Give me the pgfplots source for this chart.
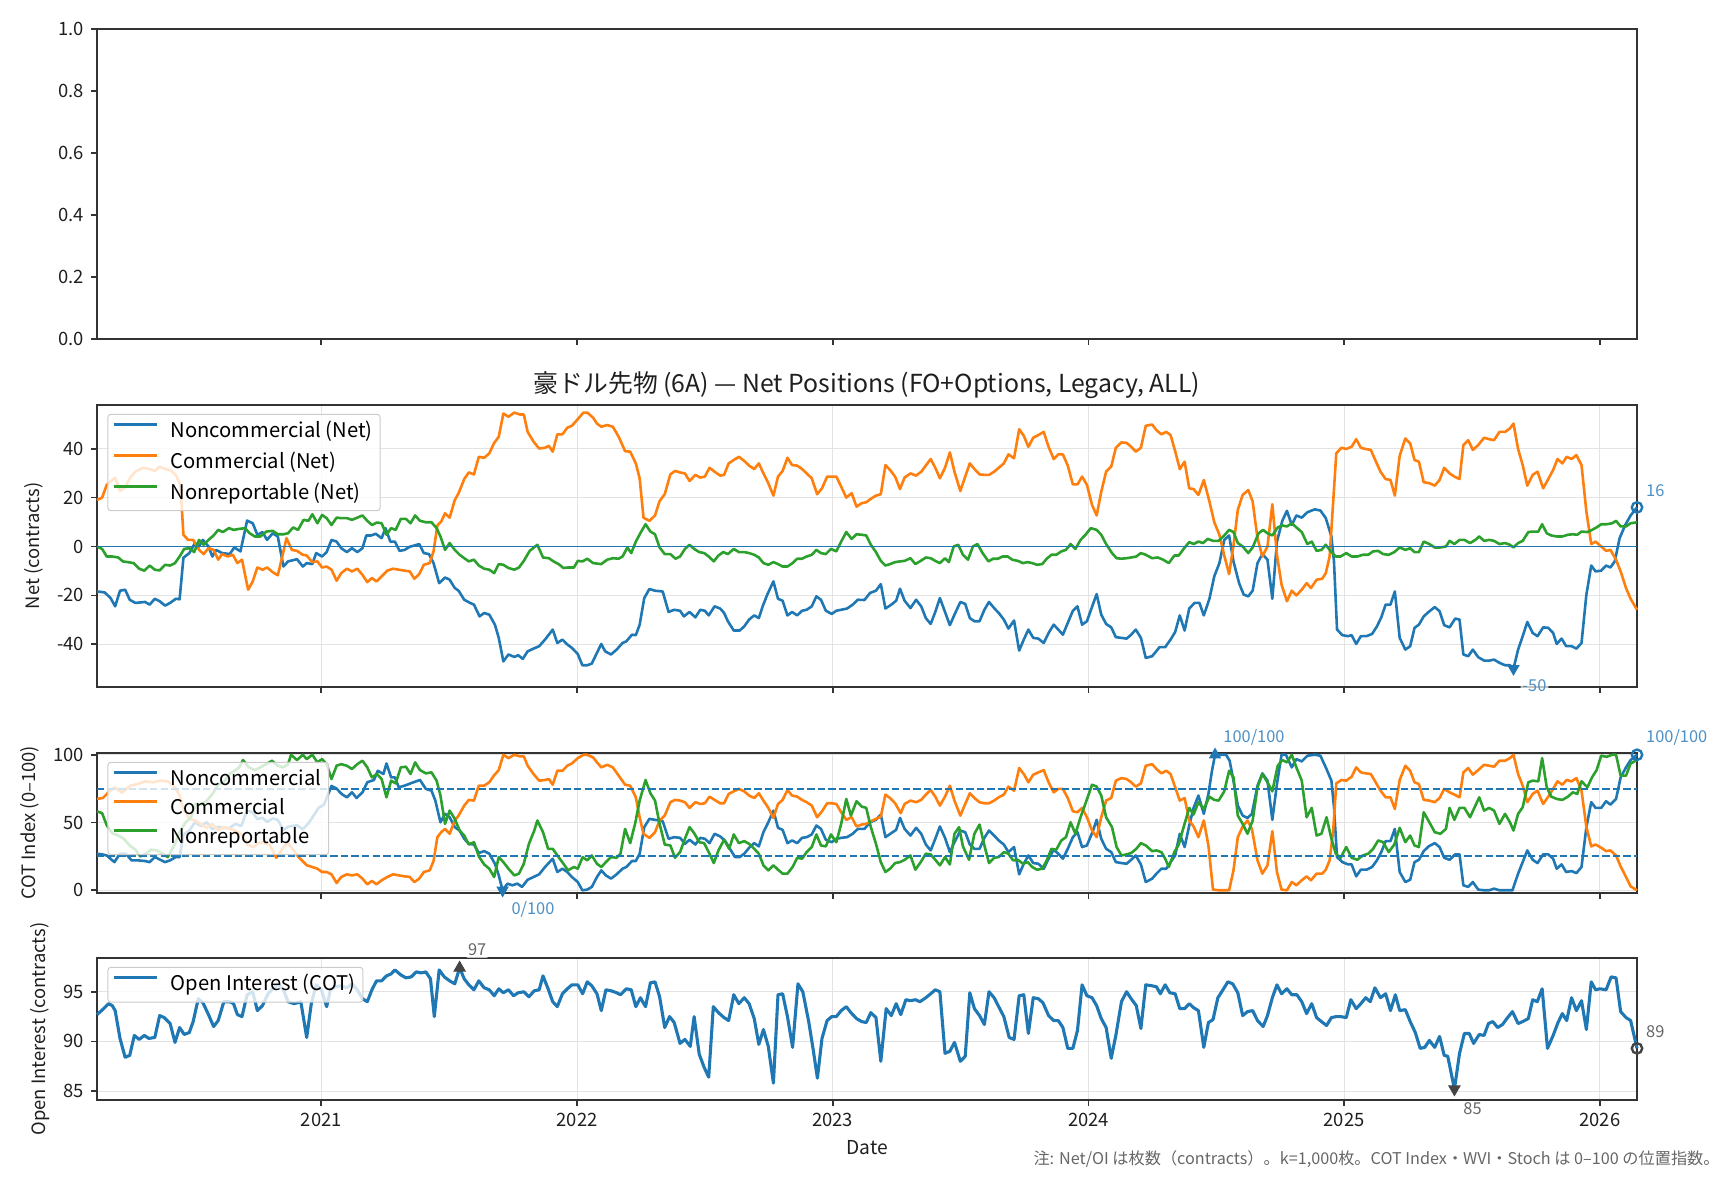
\documentclass[border=0pt]{standalone}
\usepackage{fontspec}
\setmainfont{Noto Sans CJK JP}
\usepackage{pgfplots}
\usepackage{pgfplotstable}
\pgfplotsset{compat=1.18}

\definecolor{C0}{HTML}{1F77B4}
\definecolor{C1}{HTML}{FF7F0E}
\definecolor{C2}{HTML}{2CA02C}
\definecolor{spine}{HTML}{333333}
\definecolor{gridc}{HTML}{E3E3E3}
\definecolor{annblue}{HTML}{4D90C6}
\definecolor{anngray}{HTML}{666666}
\definecolor{markgray}{HTML}{444444}

\newcommand\ticksz{\fontsize{9.2pt}{11pt}\selectfont}
\newcommand\legsz{\fontsize{10.1pt}{12pt}\selectfont}
\newcommand\titsz{\fontsize{12.4pt}{15pt}\selectfont}
\newcommand\annsz{\fontsize{8.2pt}{10pt}\selectfont}
\newcommand\notesz{\fontsize{8.1pt}{10pt}\selectfont}

% ---------- net positions (k contracts) ----------
\pgfplotstableread{
t v
2020.123 -18.4
2020.153 -18.8
2020.176 -21.1
2020.194 -24.5
2020.213 -18.1
2020.233 -17.7
2020.251 -21.8
2020.273 -23.1
2020.311 -22.7
2020.329 -23.8
2020.349 -21.4
2020.368 -22.4
2020.389 -24.2
2020.409 -23.1
2020.431 -21.4
2020.446 -21.6
2020.461 -4.6
2020.484 -2.7
2020.506 1.4
2020.522 0.0
2020.537 2.7
2020.559 0.0
2020.574 -4.1
2020.589 -1.4
2020.612 -2.7
2020.642 -3.1
2020.660 -0.4
2020.684 -2.0
2020.710 10.6
2020.732 9.5
2020.750 4.8
2020.770 5.9
2020.788 2.7
2020.810 5.4
2020.830 4.1
2020.852 -8.2
2020.870 -6.1
2020.905 -5.2
2020.928 -8.2
2020.943 -6.8
2020.965 -7.2
2020.980 -2.7
2021.003 -4.1
2021.021 -2.3
2021.040 2.7
2021.060 2.0
2021.078 -0.7
2021.100 -2.3
2021.120 -0.7
2021.141 -2.3
2021.161 -0.7
2021.176 4.5
2021.195 4.5
2021.213 5.2
2021.236 3.4
2021.251 7.5
2021.270 2.0
2021.288 2.0
2021.306 -1.8
2021.326 -1.4
2021.346 -0.1
2021.364 0.4
2021.383 1.0
2021.401 -2.7
2021.421 -3.1
2021.439 -6.8
2021.461 -15.0
2021.484 -12.7
2021.502 -13.6
2021.522 -17.0
2021.537 -18.1
2021.559 -21.8
2021.582 -23.1
2021.597 -23.8
2021.619 -28.6
2021.637 -27.2
2021.657 -27.9
2021.679 -32.0
2021.694 -37.4
2021.712 -47.0
2021.732 -44.2
2021.755 -45.2
2021.770 -44.5
2021.788 -46.0
2021.807 -42.9
2021.830 -41.8
2021.852 -40.8
2021.875 -38.1
2021.905 -34.0
2021.923 -39.5
2021.943 -38.1
2021.962 -40.1
2021.980 -41.5
2022.003 -44.0
2022.021 -48.6
2022.040 -48.6
2022.058 -47.9
2022.078 -43.5
2022.095 -39.9
2022.110 -42.9
2022.133 -44.2
2022.155 -42.2
2022.178 -39.5
2022.193 -38.8
2022.215 -36.1
2022.230 -36.3
2022.245 -32.0
2022.263 -21.1
2022.283 -17.4
2022.305 -18.1
2022.335 -18.4
2022.358 -26.8
2022.380 -25.9
2022.403 -26.3
2022.418 -28.6
2022.440 -26.8
2022.463 -29.0
2022.482 -25.9
2022.500 -26.3
2022.515 -28.2
2022.538 -24.5
2022.560 -25.4
2022.575 -27.2
2022.590 -30.6
2022.613 -34.4
2022.636 -34.4
2022.654 -32.7
2022.673 -29.9
2022.693 -28.2
2022.711 -29.3
2022.726 -24.5
2022.744 -19.7
2022.768 -14.3
2022.786 -21.4
2022.804 -22.2
2022.823 -28.2
2022.841 -26.8
2022.861 -28.2
2022.880 -26.3
2022.898 -25.9
2022.918 -24.5
2022.936 -20.4
2022.954 -21.8
2022.973 -26.3
2022.996 -27.6
2023.014 -26.3
2023.033 -25.9
2023.056 -25.4
2023.078 -23.8
2023.098 -21.8
2023.124 -21.9
2023.146 -19.0
2023.169 -18.1
2023.188 -15.4
2023.206 -25.4
2023.229 -23.8
2023.248 -22.2
2023.263 -17.3
2023.281 -22.2
2023.304 -25.2
2023.326 -21.8
2023.346 -24.5
2023.364 -29.3
2023.383 -31.7
2023.401 -26.8
2023.419 -21.1
2023.439 -26.8
2023.458 -32.2
2023.476 -27.9
2023.499 -22.7
2023.518 -23.5
2023.536 -29.3
2023.554 -30.6
2023.574 -30.6
2023.593 -25.9
2023.611 -22.7
2023.631 -25.2
2023.649 -27.2
2023.669 -29.9
2023.687 -33.6
2023.709 -30.3
2023.729 -42.6
2023.747 -38.1
2023.765 -34.0
2023.784 -37.4
2023.804 -37.7
2023.825 -39.5
2023.844 -35.4
2023.864 -32.0
2023.882 -34.0
2023.900 -36.1
2023.919 -31.3
2023.939 -26.3
2023.957 -24.5
2023.975 -32.0
2023.994 -30.6
2024.017 -23.8
2024.032 -19.5
2024.050 -27.9
2024.069 -31.7
2024.089 -33.1
2024.107 -37.1
2024.129 -37.4
2024.149 -37.7
2024.167 -36.1
2024.185 -34.0
2024.205 -37.4
2024.224 -45.6
2024.249 -44.9
2024.278 -41.2
2024.300 -41.2
2024.321 -38.1
2024.339 -35.0
2024.357 -28.2
2024.376 -34.4
2024.394 -25.4
2024.415 -23.1
2024.434 -23.1
2024.451 -28.2
2024.473 -21.4
2024.492 -12.2
2024.512 -6.8
2024.531 2.7
2024.550 4.5
2024.567 -6.1
2024.589 -15.0
2024.607 -19.7
2024.625 -20.4
2024.642 -18.1
2024.661 -6.8
2024.680 -3.1
2024.700 -5.4
2024.719 -21.4
2024.737 2.0
2024.758 10.5
2024.776 14.6
2024.795 8.8
2024.813 12.7
2024.834 11.8
2024.856 14.0
2024.885 15.2
2024.907 14.7
2024.928 11.6
2024.950 4.1
2024.960 -6.1
2024.972 -34.0
2024.993 -36.3
2025.015 -36.7
2025.029 -36.3
2025.047 -39.9
2025.065 -36.7
2025.087 -36.7
2025.109 -35.8
2025.128 -32.7
2025.145 -29.0
2025.162 -23.8
2025.181 -23.8
2025.198 -18.4
2025.217 -37.4
2025.239 -42.2
2025.258 -40.8
2025.275 -33.3
2025.292 -32.0
2025.311 -28.6
2025.330 -26.8
2025.354 -24.8
2025.373 -26.5
2025.391 -32.2
2025.412 -33.1
2025.434 -29.5
2025.451 -29.9
2025.466 -44.2
2025.485 -44.9
2025.503 -42.2
2025.524 -45.3
2025.547 -46.7
2025.567 -46.7
2025.586 -46.3
2025.607 -47.6
2025.629 -48.6
2025.648 -48.6
2025.662 -50.0
2025.680 -42.2
2025.698 -36.7
2025.716 -30.9
2025.737 -35.4
2025.756 -36.7
2025.778 -33.1
2025.798 -33.3
2025.817 -35.4
2025.831 -39.9
2025.850 -37.7
2025.868 -40.8
2025.889 -40.8
2025.908 -41.8
2025.928 -39.5
2025.947 -19.7
2025.966 -7.8
2025.983 -10.2
2026.005 -9.9
2026.024 -7.8
2026.041 -8.6
2026.058 -6.1
2026.077 3.4
2026.099 8.8
2026.120 12.7
2026.145 16.0
}\netNC

\pgfplotstableread{
t v
2020.123 19.0
2020.143 20.0
2020.161 25.2
2020.194 28.2
2020.213 22.7
2020.233 24.1
2020.251 27.9
2020.273 30.6
2020.303 32.2
2020.329 31.7
2020.349 30.9
2020.368 32.7
2020.389 31.7
2020.409 31.3
2020.431 29.3
2020.449 25.4
2020.461 4.8
2020.479 2.7
2020.499 2.7
2020.522 -1.4
2020.540 -3.1
2020.559 -0.7
2020.579 -1.4
2020.597 -5.4
2020.612 -3.1
2020.634 -4.1
2020.654 -3.4
2020.672 -6.8
2020.690 -5.4
2020.714 -17.7
2020.732 -14.3
2020.750 -8.6
2020.770 -9.5
2020.788 -8.6
2020.810 -10.5
2020.830 -11.8
2020.849 -3.4
2020.864 3.4
2020.885 -1.4
2020.905 -1.8
2020.928 -3.4
2020.943 -3.7
2020.965 -6.4
2020.985 -6.1
2021.003 -8.6
2021.021 -8.2
2021.040 -9.5
2021.060 -14.0
2021.078 -10.9
2021.100 -9.1
2021.120 -10.2
2021.141 -9.1
2021.161 -11.6
2021.180 -14.6
2021.198 -12.9
2021.216 -14.3
2021.236 -12.2
2021.258 -9.9
2021.281 -9.1
2021.303 -9.5
2021.326 -9.9
2021.346 -10.2
2021.364 -13.2
2021.383 -11.3
2021.401 -7.5
2021.424 -6.8
2021.439 -2.0
2021.454 8.6
2021.469 10.2
2021.484 13.6
2021.502 11.8
2021.522 19.0
2021.537 21.8
2021.559 27.6
2021.577 30.3
2021.597 29.5
2021.616 36.7
2021.637 36.3
2021.657 38.1
2021.675 42.2
2021.694 44.9
2021.712 54.4
2021.732 53.1
2021.755 54.8
2021.777 54.0
2021.792 54.0
2021.807 46.9
2021.830 42.9
2021.852 40.1
2021.875 40.4
2021.890 41.2
2021.905 38.8
2021.923 45.9
2021.943 45.9
2021.962 48.6
2021.980 49.4
2022.003 52.1
2022.025 54.8
2022.040 54.8
2022.063 52.7
2022.078 50.3
2022.095 49.0
2022.118 49.7
2022.140 49.0
2022.163 44.9
2022.188 39.0
2022.208 38.8
2022.230 34.0
2022.245 27.9
2022.260 11.8
2022.283 10.5
2022.305 12.7
2022.323 18.6
2022.343 21.4
2022.365 29.5
2022.383 30.9
2022.403 30.3
2022.422 29.9
2022.440 26.8
2022.463 29.3
2022.482 28.2
2022.500 28.6
2022.518 32.2
2022.538 30.6
2022.560 29.0
2022.575 29.3
2022.593 34.0
2022.613 35.4
2022.633 36.7
2022.654 35.0
2022.673 33.1
2022.693 31.7
2022.711 34.0
2022.729 29.9
2022.748 25.9
2022.768 20.8
2022.786 28.6
2022.804 30.9
2022.823 36.3
2022.841 33.3
2022.861 33.1
2022.880 31.7
2022.898 29.9
2022.918 27.9
2022.939 21.4
2022.958 23.8
2022.978 28.6
2022.996 28.6
2023.014 28.6
2023.033 24.5
2023.053 20.0
2023.074 21.8
2023.093 16.3
2023.113 17.7
2023.131 18.1
2023.149 19.5
2023.169 20.8
2023.188 21.4
2023.206 33.3
2023.224 31.3
2023.244 28.6
2023.263 23.5
2023.281 28.2
2023.304 29.9
2023.326 29.0
2023.346 30.6
2023.364 33.1
2023.383 35.8
2023.401 32.2
2023.419 27.9
2023.439 32.2
2023.458 38.5
2023.476 30.6
2023.499 22.7
2023.518 28.6
2023.536 34.0
2023.554 31.7
2023.574 29.5
2023.593 29.3
2023.611 29.3
2023.631 30.6
2023.649 32.2
2023.669 34.0
2023.687 37.7
2023.709 36.1
2023.729 48.0
2023.747 45.3
2023.765 40.8
2023.784 44.5
2023.804 45.6
2023.825 46.9
2023.844 40.8
2023.864 35.8
2023.882 37.7
2023.900 37.7
2023.919 33.1
2023.939 25.4
2023.957 25.4
2023.975 28.6
2023.994 25.2
2024.014 17.0
2024.032 12.7
2024.050 22.4
2024.069 30.6
2024.089 32.7
2024.107 40.4
2024.129 42.6
2024.149 42.4
2024.167 40.8
2024.185 38.8
2024.205 40.4
2024.224 49.4
2024.249 49.9
2024.266 47.6
2024.285 45.9
2024.304 46.9
2024.321 45.6
2024.339 39.0
2024.357 31.7
2024.376 34.7
2024.394 23.8
2024.411 23.5
2024.430 21.1
2024.451 27.2
2024.473 18.4
2024.492 9.9
2024.512 4.8
2024.531 -3.7
2024.550 -11.3
2024.567 0.4
2024.584 15.0
2024.603 21.1
2024.625 23.1
2024.642 18.4
2024.661 3.4
2024.680 -4.1
2024.700 0.0
2024.719 17.3
2024.737 -3.4
2024.755 -15.6
2024.776 -22.4
2024.795 -18.1
2024.813 -20.0
2024.834 -17.7
2024.853 -15.0
2024.870 -17.0
2024.892 -13.6
2024.914 -13.2
2024.928 -10.9
2024.943 -4.1
2024.957 18.4
2024.969 38.1
2024.989 40.4
2025.008 39.9
2025.029 40.8
2025.047 43.9
2025.065 40.4
2025.084 39.9
2025.104 39.5
2025.123 35.0
2025.142 30.6
2025.162 27.6
2025.181 27.2
2025.198 20.8
2025.217 37.1
2025.239 44.2
2025.258 42.2
2025.275 35.4
2025.292 34.7
2025.311 26.3
2025.333 25.9
2025.354 24.9
2025.373 27.2
2025.391 32.2
2025.412 29.9
2025.431 28.6
2025.451 27.6
2025.466 41.5
2025.485 43.5
2025.503 39.5
2025.524 41.5
2025.547 44.5
2025.567 43.9
2025.586 43.5
2025.607 46.9
2025.629 46.9
2025.648 48.3
2025.662 50.3
2025.680 39.9
2025.698 33.3
2025.716 24.9
2025.737 29.3
2025.756 30.6
2025.778 23.8
2025.798 27.6
2025.817 31.3
2025.834 35.8
2025.853 34.0
2025.870 36.7
2025.889 35.8
2025.908 37.4
2025.928 33.3
2025.947 14.3
2025.966 1.0
2025.983 2.0
2026.005 0.0
2026.024 -1.8
2026.041 -1.4
2026.063 -5.4
2026.081 -10.2
2026.102 -17.0
2026.120 -21.4
2026.145 -25.9
}\netC

\pgfplotstableread{
t v
2020.123 0.0
2020.143 -1.0
2020.161 -4.1
2020.183 -4.1
2020.206 -4.5
2020.224 -6.1
2020.243 -6.4
2020.266 -6.8
2020.288 -9.1
2020.308 -9.9
2020.329 -7.8
2020.349 -9.5
2020.368 -9.8
2020.389 -7.5
2020.409 -7.8
2020.428 -6.8
2020.446 -4.1
2020.464 -1.0
2020.484 -0.7
2020.503 -2.3
2020.522 2.7
2020.540 0.7
2020.559 2.7
2020.579 4.5
2020.597 6.8
2020.615 5.9
2020.639 7.5
2020.657 6.8
2020.679 7.2
2020.702 7.5
2020.720 5.4
2020.740 4.1
2020.762 4.1
2020.785 6.1
2020.810 6.4
2020.830 5.0
2020.852 5.0
2020.870 5.4
2020.890 7.8
2020.909 6.8
2020.931 10.9
2020.950 10.5
2020.965 13.2
2020.985 9.5
2021.003 12.9
2021.021 11.6
2021.040 8.8
2021.060 11.8
2021.078 11.6
2021.100 11.6
2021.120 10.9
2021.141 11.8
2021.161 12.7
2021.180 10.5
2021.198 8.8
2021.218 9.8
2021.236 9.5
2021.255 4.8
2021.273 7.5
2021.291 6.8
2021.311 11.3
2021.331 11.3
2021.349 9.5
2021.367 12.7
2021.386 10.5
2021.409 9.9
2021.431 9.9
2021.451 7.5
2021.466 4.1
2021.484 -1.4
2021.502 1.4
2021.522 -1.4
2021.541 -3.4
2021.559 -4.8
2021.577 -6.1
2021.597 -5.4
2021.616 -7.8
2021.637 -9.1
2021.657 -9.5
2021.676 -10.9
2021.694 -7.2
2021.712 -7.5
2021.732 -8.8
2021.755 -9.5
2021.773 -8.6
2021.792 -5.9
2021.815 -1.8
2021.845 0.7
2021.867 -4.5
2021.890 -4.8
2021.908 -6.1
2021.928 -7.2
2021.947 -8.8
2021.965 -8.6
2021.988 -8.6
2022.003 -5.9
2022.022 -6.1
2022.040 -5.0
2022.063 -6.8
2022.095 -7.2
2022.118 -5.4
2022.140 -4.8
2022.163 -5.0
2022.178 -4.1
2022.197 -0.4
2022.212 -2.7
2022.230 2.0
2022.250 5.9
2022.268 9.1
2022.287 6.1
2022.305 5.0
2022.323 -0.4
2022.343 -3.1
2022.365 -3.1
2022.385 -5.0
2022.403 -4.1
2022.422 -1.0
2022.440 0.7
2022.458 -1.0
2022.478 -2.3
2022.497 -2.7
2022.515 -4.1
2022.535 -6.1
2022.553 -3.7
2022.572 -2.3
2022.590 -3.1
2022.613 -1.0
2022.633 -2.3
2022.654 -2.3
2022.673 -2.7
2022.693 -3.4
2022.711 -4.5
2022.729 -6.8
2022.748 -7.5
2022.768 -6.4
2022.786 -7.2
2022.804 -8.2
2022.823 -8.2
2022.843 -6.8
2022.861 -5.0
2022.880 -5.0
2022.898 -4.1
2022.918 -3.4
2022.936 -1.4
2022.954 -2.7
2022.973 -3.1
2022.993 -1.0
2023.014 -2.0
2023.033 2.0
2023.053 5.9
2023.074 3.1
2023.093 5.0
2023.113 4.8
2023.131 4.5
2023.149 0.7
2023.169 -2.3
2023.188 -5.9
2023.206 -7.8
2023.224 -7.2
2023.244 -6.4
2023.263 -6.1
2023.281 -5.9
2023.304 -4.8
2023.323 -7.2
2023.344 -5.9
2023.364 -4.5
2023.383 -4.8
2023.401 -5.9
2023.419 -6.8
2023.439 -4.8
2023.454 -6.4
2023.473 0.0
2023.491 0.7
2023.509 -3.4
2023.529 -5.4
2023.548 0.0
2023.566 1.0
2023.586 -2.7
2023.609 -6.1
2023.627 -5.0
2023.646 -5.0
2023.664 -4.1
2023.684 -4.1
2023.702 -5.4
2023.724 -5.9
2023.744 -6.8
2023.762 -6.4
2023.780 -6.8
2023.799 -7.5
2023.819 -7.2
2023.837 -5.0
2023.855 -3.4
2023.874 -3.4
2023.894 -2.0
2023.912 -1.4
2023.930 1.0
2023.949 -1.0
2023.969 2.7
2023.990 5.0
2024.009 7.5
2024.032 6.8
2024.050 4.8
2024.069 1.0
2024.092 -2.7
2024.110 -4.8
2024.129 -5.0
2024.149 -4.8
2024.167 -4.5
2024.187 -4.1
2024.205 -2.7
2024.224 -3.4
2024.249 -4.8
2024.271 -4.5
2024.292 -5.4
2024.314 -6.8
2024.336 -3.7
2024.353 -3.7
2024.372 -1.0
2024.394 1.8
2024.411 1.0
2024.430 2.0
2024.448 1.4
2024.466 3.1
2024.487 2.3
2024.509 2.3
2024.531 4.5
2024.550 6.8
2024.567 5.9
2024.584 1.4
2024.603 0.0
2024.625 -2.7
2024.642 -0.4
2024.665 5.4
2024.683 6.8
2024.700 5.4
2024.719 4.5
2024.740 7.8
2024.758 8.6
2024.776 8.2
2024.795 9.5
2024.813 7.8
2024.834 5.9
2024.856 1.0
2024.873 2.0
2024.892 -1.8
2024.911 -1.4
2024.928 0.7
2024.946 -1.8
2024.967 -4.1
2024.986 -4.1
2025.008 -2.7
2025.029 -4.1
2025.051 -4.1
2025.073 -3.4
2025.094 -3.4
2025.113 -2.0
2025.133 -1.8
2025.152 -3.1
2025.174 -3.4
2025.196 -2.3
2025.217 -0.4
2025.239 -1.4
2025.258 -0.7
2025.275 -2.3
2025.292 -2.3
2025.311 2.0
2025.333 1.0
2025.354 -0.4
2025.376 -0.4
2025.398 0.0
2025.412 2.3
2025.431 1.0
2025.451 2.7
2025.470 2.7
2025.492 1.4
2025.513 2.7
2025.528 4.1
2025.547 2.3
2025.567 2.7
2025.586 2.3
2025.607 1.0
2025.629 1.4
2025.648 0.7
2025.662 -0.4
2025.680 1.4
2025.698 2.3
2025.720 5.9
2025.737 6.1
2025.759 6.1
2025.774 9.1
2025.792 5.4
2025.810 4.5
2025.831 4.1
2025.853 4.1
2025.875 4.8
2025.894 5.0
2025.911 4.8
2025.928 6.1
2025.951 5.9
2025.969 6.8
2025.987 7.8
2026.005 9.1
2026.026 9.1
2026.048 9.5
2026.063 10.5
2026.081 8.2
2026.102 8.2
2026.120 9.5
2026.145 9.9
}\netNR

% ---------- COT index (0-100) ----------
\pgfplotstableread{
t v
2020.123 27.0
2020.143 26.5
2020.161 25.7
2020.191 20.8
2020.213 27.0
2020.236 27.0
2020.258 22.1
2020.281 22.1
2020.311 21.6
2020.329 20.8
2020.349 24.5
2020.371 22.5
2020.389 20.8
2020.409 22.1
2020.431 24.5
2020.446 24.5
2020.461 41.0
2020.484 44.1
2020.506 50.2
2020.529 47.5
2020.552 50.2
2020.574 45.0
2020.597 47.0
2020.619 46.0
2020.642 46.0
2020.664 49.0
2020.687 47.5
2020.710 59.0
2020.732 57.5
2020.750 52.5
2020.770 53.5
2020.788 50.5
2020.810 53.0
2020.830 52.0
2020.852 44.5
2020.870 47.0
2020.905 48.0
2020.928 45.0
2020.950 49.5
2020.973 56.0
2020.990 61.0
2021.010 63.0
2021.040 77.0
2021.060 75.0
2021.080 71.0
2021.100 68.6
2021.120 72.3
2021.138 68.1
2021.161 72.3
2021.180 79.7
2021.206 81.4
2021.221 88.2
2021.243 85.8
2021.255 93.6
2021.273 83.3
2021.288 83.3
2021.303 76.0
2021.326 77.2
2021.349 78.9
2021.371 80.4
2021.386 81.4
2021.409 74.8
2021.431 73.5
2021.446 66.2
2021.466 50.2
2021.484 56.4
2021.502 53.9
2021.522 46.6
2021.541 44.1
2021.559 38.0
2021.577 34.3
2021.597 33.8
2021.616 27.5
2021.637 28.9
2021.657 27.0
2021.679 19.6
2021.694 11.0
2021.709 0.0
2021.728 4.9
2021.747 3.7
2021.767 4.9
2021.785 2.5
2021.807 7.8
2021.830 9.8
2021.852 11.8
2021.875 17.2
2021.905 23.3
2021.923 13.5
2021.943 15.9
2021.962 13.5
2021.980 9.8
2022.003 6.1
2022.021 0.0
2022.040 0.5
2022.058 2.5
2022.078 9.8
2022.095 14.7
2022.113 11.0
2022.133 8.6
2022.155 11.8
2022.178 15.9
2022.193 17.2
2022.215 21.6
2022.230 21.6
2022.245 27.0
2022.263 46.6
2022.283 52.7
2022.305 52.0
2022.335 51.0
2022.358 38.0
2022.380 39.2
2022.403 38.7
2022.422 34.3
2022.440 37.3
2022.463 33.8
2022.482 38.7
2022.500 38.0
2022.518 34.8
2022.538 41.7
2022.560 39.7
2022.578 36.8
2022.598 30.6
2022.618 24.5
2022.636 24.5
2022.654 27.0
2022.673 31.4
2022.693 34.8
2022.711 32.4
2022.729 42.9
2022.748 50.2
2022.768 58.8
2022.786 46.1
2022.804 44.6
2022.823 34.8
2022.841 36.8
2022.861 34.8
2022.880 38.7
2022.898 39.2
2022.918 41.2
2022.936 47.8
2022.954 45.3
2022.973 37.3
2022.996 35.5
2023.014 38.0
2023.033 38.7
2023.056 39.2
2023.078 41.7
2023.098 45.3
2023.124 45.3
2023.146 50.2
2023.169 52.0
2023.188 55.9
2023.206 39.2
2023.229 42.2
2023.248 44.6
2023.263 53.4
2023.281 45.3
2023.304 40.4
2023.326 46.1
2023.346 41.7
2023.364 33.8
2023.383 29.4
2023.401 38.0
2023.419 47.1
2023.439 38.7
2023.458 28.2
2023.476 35.5
2023.499 44.1
2023.518 42.9
2023.536 33.8
2023.554 30.6
2023.574 30.6
2023.593 38.7
2023.611 44.1
2023.631 40.4
2023.649 36.8
2023.669 33.8
2023.687 28.2
2023.709 31.9
2023.729 11.8
2023.747 19.6
2023.765 25.7
2023.784 20.1
2023.804 19.6
2023.825 15.9
2023.844 23.3
2023.864 29.9
2023.882 27.0
2023.900 23.3
2023.919 30.6
2023.939 39.2
2023.957 42.9
2023.975 31.9
2023.994 33.1
2024.017 43.6
2024.032 52.0
2024.050 38.0
2024.069 30.6
2024.089 28.2
2024.107 20.8
2024.129 20.1
2024.149 19.6
2024.167 22.5
2024.185 25.7
2024.205 19.1
2024.224 6.1
2024.249 8.6
2024.266 12.3
2024.285 15.9
2024.304 15.9
2024.321 20.8
2024.339 25.7
2024.357 41.7
2024.376 31.9
2024.394 47.8
2024.411 60.8
2024.430 69.9
2024.451 56.4
2024.469 71.1
2024.483 88.2
2024.495 100.0
2024.516 100.0
2024.538 100.0
2024.552 95.6
2024.567 80.9
2024.584 62.5
2024.603 55.1
2024.622 53.4
2024.639 56.4
2024.661 77.2
2024.680 86.3
2024.700 80.9
2024.719 52.0
2024.737 78.4
2024.755 100.0
2024.772 100.0
2024.795 90.7
2024.813 96.8
2024.834 95.1
2024.856 99.3
2024.885 100.0
2024.907 99.3
2024.928 90.7
2024.950 80.9
2024.960 61.3
2024.972 24.5
2024.993 20.8
2025.015 19.1
2025.029 19.1
2025.047 10.3
2025.065 15.2
2025.087 15.2
2025.109 17.2
2025.128 22.1
2025.145 28.2
2025.162 36.3
2025.181 36.3
2025.198 45.3
2025.217 13.5
2025.239 6.1
2025.258 7.8
2025.275 20.8
2025.292 22.5
2025.311 28.9
2025.330 32.4
2025.354 34.8
2025.373 31.9
2025.391 24.0
2025.412 22.5
2025.434 26.5
2025.451 26.5
2025.466 3.7
2025.485 2.5
2025.503 6.1
2025.524 0.5
2025.547 0.0
2025.567 0.0
2025.586 1.2
2025.607 0.0
2025.629 0.0
2025.658 0.0
2025.680 12.3
2025.698 20.8
2025.716 29.4
2025.737 22.5
2025.756 20.1
2025.778 26.5
2025.798 26.5
2025.817 23.3
2025.831 15.9
2025.850 19.1
2025.868 13.5
2025.889 14.2
2025.908 12.7
2025.928 17.2
2025.947 46.6
2025.966 65.0
2025.983 60.8
2026.005 60.8
2026.024 65.7
2026.041 63.2
2026.063 67.4
2026.081 83.3
2026.102 90.7
2026.120 96.1
2026.145 100.0
}\cotNC

\pgfplotstableread{
t v
2020.123 67.4
2020.146 68.1
2020.168 72.3
2020.191 76.0
2020.221 72.0
2020.251 77.0
2020.281 78.4
2020.311 80.4
2020.341 79.7
2020.371 80.9
2020.401 80.4
2020.428 76.0
2020.446 70.0
2020.461 60.0
2020.484 52.7
2020.506 51.5
2020.529 49.0
2020.552 46.1
2020.574 49.0
2020.597 44.5
2020.619 46.6
2020.642 45.3
2020.664 44.0
2020.690 41.0
2020.712 33.5
2020.735 31.8
2020.755 35.0
2020.774 35.5
2020.800 33.1
2020.824 24.0
2020.852 31.8
2020.870 34.8
2020.890 30.0
2020.911 24.5
2020.944 18.4
2020.965 17.2
2020.985 15.9
2021.003 13.5
2021.021 13.5
2021.040 11.8
2021.060 5.4
2021.078 9.8
2021.100 11.8
2021.120 11.0
2021.141 11.8
2021.161 8.6
2021.180 4.4
2021.198 6.9
2021.216 4.4
2021.236 7.4
2021.258 9.8
2021.281 11.8
2021.303 11.0
2021.326 10.3
2021.346 9.8
2021.364 6.1
2021.383 8.6
2021.401 13.5
2021.424 14.7
2021.439 21.6
2021.454 39.2
2021.469 42.9
2021.484 45.3
2021.502 41.7
2021.522 51.5
2021.537 55.1
2021.559 62.5
2021.577 66.7
2021.597 66.2
2021.616 77.2
2021.637 77.2
2021.657 79.7
2021.675 84.6
2021.694 88.7
2021.712 100.0
2021.732 97.5
2021.755 100.0
2021.777 98.8
2021.792 98.8
2021.807 91.9
2021.830 85.8
2021.852 80.9
2021.875 81.4
2021.890 82.1
2021.905 77.9
2021.923 88.2
2021.943 88.2
2021.962 91.9
2021.980 93.6
2022.003 97.5
2022.025 100.0
2022.040 100.0
2022.063 98.0
2022.078 94.4
2022.095 90.7
2022.118 92.6
2022.140 90.7
2022.163 84.6
2022.188 77.9
2022.208 77.2
2022.230 68.6
2022.245 53.9
2022.260 41.7
2022.283 38.7
2022.305 42.9
2022.323 51.5
2022.343 55.1
2022.365 65.0
2022.383 66.7
2022.403 66.2
2022.422 65.0
2022.440 60.8
2022.463 65.0
2022.482 63.7
2022.500 64.2
2022.518 69.1
2022.538 66.7
2022.560 64.2
2022.575 64.2
2022.593 71.1
2022.613 73.0
2022.633 74.8
2022.654 73.0
2022.673 69.9
2022.693 68.1
2022.711 71.6
2022.729 66.2
2022.748 60.8
2022.768 53.4
2022.786 63.7
2022.804 66.7
2022.823 74.0
2022.841 69.9
2022.861 69.1
2022.880 66.7
2022.898 65.0
2022.918 62.5
2022.939 53.9
2022.958 58.3
2022.978 64.2
2022.996 64.2
2023.014 63.7
2023.033 57.6
2023.053 52.0
2023.074 53.9
2023.093 47.1
2023.113 48.5
2023.131 49.0
2023.149 51.0
2023.169 52.7
2023.188 54.4
2023.206 70.6
2023.224 68.1
2023.244 64.2
2023.266 56.9
2023.281 63.7
2023.304 66.2
2023.326 65.0
2023.346 66.7
2023.364 70.6
2023.383 74.0
2023.401 69.1
2023.419 62.5
2023.439 69.1
2023.458 77.2
2023.476 66.2
2023.499 55.1
2023.518 63.7
2023.536 71.6
2023.554 68.1
2023.574 65.0
2023.593 64.2
2023.611 64.2
2023.631 66.2
2023.649 68.6
2023.669 70.6
2023.687 76.5
2023.709 73.5
2023.729 90.2
2023.747 85.8
2023.765 79.7
2023.784 85.3
2023.804 87.0
2023.825 88.7
2023.844 79.7
2023.864 72.3
2023.882 74.8
2023.900 74.8
2023.919 68.1
2023.939 58.3
2023.957 57.6
2023.975 60.8
2023.994 53.9
2024.014 44.1
2024.032 39.2
2024.050 53.9
2024.069 66.2
2024.089 68.1
2024.107 80.9
2024.129 82.8
2024.149 82.1
2024.167 79.7
2024.185 76.5
2024.205 78.9
2024.224 91.9
2024.249 93.1
2024.266 89.5
2024.285 86.3
2024.304 88.2
2024.321 85.8
2024.339 76.0
2024.357 66.2
2024.376 68.1
2024.394 51.5
2024.411 47.1
2024.430 39.2
2024.451 51.5
2024.469 33.1
2024.487 0.5
2024.509 0.0
2024.531 0.0
2024.550 0.0
2024.567 14.7
2024.584 39.2
2024.603 47.1
2024.622 51.5
2024.639 45.3
2024.661 22.1
2024.680 12.3
2024.700 18.4
2024.719 43.6
2024.737 13.5
2024.755 0.5
2024.776 0.0
2024.795 6.1
2024.813 3.7
2024.834 7.4
2024.853 10.3
2024.870 7.4
2024.892 12.3
2024.914 12.3
2024.928 15.2
2024.943 22.1
2024.957 44.1
2024.969 78.9
2024.989 81.4
2025.008 80.9
2025.029 83.8
2025.047 90.7
2025.065 87.0
2025.084 86.3
2025.104 85.8
2025.123 79.7
2025.142 73.5
2025.162 68.6
2025.181 68.6
2025.198 60.0
2025.217 81.4
2025.239 91.9
2025.258 88.2
2025.275 79.7
2025.292 78.4
2025.311 66.7
2025.333 66.2
2025.354 65.0
2025.373 68.1
2025.391 74.8
2025.412 72.3
2025.431 70.6
2025.451 68.6
2025.466 87.0
2025.485 90.2
2025.503 85.3
2025.524 88.7
2025.547 92.6
2025.567 91.9
2025.586 91.2
2025.607 95.6
2025.629 95.6
2025.648 97.5
2025.662 100.0
2025.680 85.8
2025.698 77.2
2025.716 65.0
2025.737 71.1
2025.756 73.5
2025.778 63.7
2025.798 69.1
2025.817 74.8
2025.834 80.4
2025.853 77.9
2025.870 81.4
2025.889 80.4
2025.908 82.8
2025.928 73.5
2025.947 46.6
2025.966 32.4
2025.983 33.8
2026.005 31.4
2026.024 28.9
2026.041 29.4
2026.063 25.7
2026.081 17.6
2026.102 9.8
2026.120 2.9
2026.145 0.0
}\cotC

\pgfplotstableread{
t v
2020.123 58.3
2020.143 56.9
2020.161 48.0
2020.183 42.0
2020.206 40.5
2020.228 38.0
2020.251 33.0
2020.273 30.0
2020.292 25.0
2020.314 27.0
2020.334 30.0
2020.357 29.4
2020.380 27.0
2020.400 24.5
2020.428 34.3
2020.446 43.0
2020.469 50.0
2020.491 54.0
2020.509 64.0
2020.529 63.0
2020.552 66.0
2020.574 71.0
2020.597 78.0
2020.619 80.0
2020.642 86.0
2020.660 88.0
2020.679 90.7
2020.694 96.1
2020.717 90.7
2020.740 88.7
2020.762 90.7
2020.785 93.1
2020.807 95.6
2020.830 91.9
2020.852 90.7
2020.870 93.1
2020.882 100.0
2020.905 96.1
2020.928 100.0
2020.943 96.8
2020.965 100.0
2020.985 94.4
2021.003 96.8
2021.021 93.1
2021.040 82.1
2021.060 91.9
2021.078 93.1
2021.100 91.9
2021.120 89.5
2021.141 93.1
2021.161 95.6
2021.180 90.7
2021.198 83.3
2021.218 85.8
2021.236 82.1
2021.255 68.6
2021.273 80.9
2021.291 78.9
2021.311 90.7
2021.331 91.2
2021.349 85.8
2021.367 94.4
2021.386 88.7
2021.409 86.3
2021.431 87.0
2021.451 80.9
2021.466 69.9
2021.484 49.0
2021.502 58.8
2021.522 52.7
2021.541 44.1
2021.559 40.4
2021.577 33.8
2021.597 35.5
2021.616 25.0
2021.637 19.1
2021.657 15.9
2021.676 9.8
2021.694 24.5
2021.712 20.8
2021.732 15.9
2021.755 11.0
2021.773 12.3
2021.792 19.6
2021.812 34.3
2021.833 44.1
2021.845 51.5
2021.867 42.9
2021.887 30.6
2021.905 30.6
2021.928 24.5
2021.947 19.6
2021.965 14.7
2021.988 17.2
2022.003 15.9
2022.022 24.5
2022.040 22.1
2022.058 25.7
2022.078 19.6
2022.095 17.2
2022.113 20.8
2022.133 24.5
2022.155 24.0
2022.170 27.0
2022.188 45.3
2022.208 34.8
2022.227 49.0
2022.245 66.2
2022.268 81.4
2022.287 71.6
2022.305 66.2
2022.323 49.0
2022.343 33.8
2022.365 33.1
2022.383 24.0
2022.403 28.2
2022.422 38.0
2022.440 46.6
2022.458 42.2
2022.478 35.5
2022.497 34.8
2022.515 28.2
2022.535 20.1
2022.553 29.4
2022.575 37.3
2022.595 30.6
2022.613 41.2
2022.633 34.8
2022.654 36.3
2022.673 34.3
2022.693 30.6
2022.711 27.0
2022.729 18.4
2022.748 14.7
2022.768 18.4
2022.786 15.2
2022.804 12.3
2022.823 12.3
2022.843 17.2
2022.861 24.0
2022.880 23.3
2022.898 28.2
2022.918 31.9
2022.936 41.2
2022.954 33.1
2022.973 32.4
2022.993 41.2
2023.014 35.5
2023.033 49.0
2023.053 67.4
2023.071 55.1
2023.093 65.7
2023.113 61.8
2023.131 60.8
2023.149 46.6
2023.169 34.3
2023.188 20.8
2023.206 13.5
2023.224 15.9
2023.244 20.1
2023.263 20.8
2023.281 22.5
2023.304 25.7
2023.323 15.2
2023.344 20.8
2023.364 27.0
2023.383 26.5
2023.401 22.5
2023.419 18.4
2023.439 24.5
2023.458 19.1
2023.476 41.7
2023.494 46.6
2023.509 32.4
2023.533 22.5
2023.554 41.7
2023.574 48.5
2023.593 33.1
2023.611 20.1
2023.631 24.0
2023.649 24.5
2023.669 28.2
2023.687 27.0
2023.705 22.1
2023.724 22.5
2023.744 19.6
2023.762 20.8
2023.780 17.2
2023.799 15.2
2023.819 15.9
2023.837 22.1
2023.855 30.6
2023.874 29.9
2023.894 36.8
2023.912 39.2
2023.930 50.2
2023.949 41.7
2023.969 53.9
2023.990 65.0
2024.014 77.9
2024.032 76.5
2024.050 69.9
2024.069 53.9
2024.092 46.6
2024.110 31.9
2024.129 25.7
2024.149 26.5
2024.167 27.5
2024.187 30.6
2024.205 34.8
2024.224 33.1
2024.249 28.9
2024.266 29.4
2024.285 28.2
2024.300 23.3
2024.314 17.2
2024.336 28.2
2024.353 33.8
2024.372 46.6
2024.394 60.8
2024.411 55.9
2024.430 65.0
2024.451 60.0
2024.473 69.1
2024.492 66.7
2024.509 66.2
2024.531 73.0
2024.550 88.2
2024.567 83.3
2024.584 55.1
2024.603 49.0
2024.622 41.7
2024.642 51.5
2024.661 76.0
2024.680 85.8
2024.700 79.7
2024.719 73.0
2024.740 91.9
2024.758 96.1
2024.776 94.4
2024.795 100.0
2024.813 90.7
2024.834 80.9
2024.853 53.9
2024.873 60.8
2024.892 40.4
2024.911 41.7
2024.931 53.9
2024.950 38.0
2024.967 27.0
2024.986 24.0
2025.008 31.9
2025.029 24.0
2025.051 22.5
2025.073 25.7
2025.094 27.0
2025.113 30.6
2025.133 36.8
2025.152 35.5
2025.174 28.2
2025.196 33.8
2025.217 46.1
2025.239 35.5
2025.258 40.4
2025.275 33.1
2025.292 31.9
2025.311 57.6
2025.333 50.2
2025.354 42.9
2025.376 41.7
2025.398 45.3
2025.412 60.8
2025.431 52.0
2025.451 60.8
2025.470 60.8
2025.492 53.9
2025.513 62.5
2025.528 68.6
2025.547 58.8
2025.567 60.8
2025.586 58.8
2025.607 49.0
2025.629 56.4
2025.648 50.2
2025.662 44.1
2025.680 56.4
2025.698 61.3
2025.720 79.7
2025.737 80.9
2025.759 80.4
2025.774 97.5
2025.792 76.0
2025.810 69.1
2025.831 67.4
2025.853 66.7
2025.875 69.1
2025.894 72.3
2025.911 71.1
2025.928 80.4
2025.951 76.0
2025.969 83.3
2025.987 88.7
2026.005 99.3
2026.026 98.5
2026.048 100.0
2026.063 100.0
2026.081 84.6
2026.102 84.6
2026.120 93.6
2026.145 96.1
}\cotNR

% ---------- open interest (k contracts) ----------
\pgfplotstableread{
t v
2020.123 92.7
2020.149 93.3
2020.168 93.8
2020.183 93.6
2020.194 93.1
2020.213 90.3
2020.233 88.4
2020.251 88.6
2020.269 90.6
2020.288 90.2
2020.308 90.6
2020.326 90.3
2020.349 90.4
2020.368 92.6
2020.386 92.4
2020.409 91.8
2020.428 89.9
2020.446 91.4
2020.464 90.7
2020.484 90.9
2020.499 92.0
2020.519 94.3
2020.537 93.9
2020.559 92.7
2020.579 91.5
2020.597 92.1
2020.619 94.0
2020.642 94.0
2020.657 93.8
2020.672 92.7
2020.690 92.5
2020.710 94.7
2020.732 95.0
2020.750 93.1
2020.770 93.6
2020.792 94.8
2020.810 95.3
2020.830 95.8
2020.852 95.2
2020.870 94.0
2020.894 93.8
2020.920 94.0
2020.943 90.4
2020.961 93.8
2020.980 95.7
2021.000 95.2
2021.021 93.5
2021.036 95.2
2021.055 95.5
2021.078 95.6
2021.100 95.4
2021.120 95.8
2021.141 95.2
2021.161 94.3
2021.180 94.0
2021.198 95.2
2021.216 96.1
2021.236 96.1
2021.255 96.6
2021.273 96.8
2021.288 97.2
2021.311 96.7
2021.331 96.4
2021.352 96.5
2021.371 97.0
2021.391 96.9
2021.409 97.0
2021.427 96.3
2021.442 92.5
2021.461 97.2
2021.481 96.5
2021.502 96.1
2021.522 95.8
2021.541 97.4
2021.559 96.3
2021.577 95.7
2021.597 95.2
2021.616 96.1
2021.637 95.4
2021.657 95.2
2021.676 94.6
2021.694 95.3
2021.712 94.9
2021.732 95.2
2021.752 94.6
2021.770 94.9
2021.792 95.0
2021.812 94.5
2021.833 95.1
2021.852 95.2
2021.867 96.6
2021.887 95.3
2021.905 94.0
2021.923 93.5
2021.943 94.8
2021.962 95.3
2021.980 95.7
2022.003 95.7
2022.022 94.8
2022.040 96.0
2022.058 95.6
2022.078 94.8
2022.095 93.1
2022.113 95.2
2022.133 95.1
2022.155 94.9
2022.170 94.7
2022.193 95.3
2022.212 95.2
2022.230 93.5
2022.248 94.4
2022.268 93.5
2022.287 95.9
2022.305 96.0
2022.323 94.5
2022.343 91.4
2022.362 92.5
2022.380 91.9
2022.403 89.8
2022.422 90.2
2022.443 89.5
2022.458 92.5
2022.478 88.7
2022.497 87.4
2022.515 86.4
2022.533 93.5
2022.553 92.9
2022.575 92.4
2022.593 92.1
2022.613 94.7
2022.633 93.8
2022.654 94.4
2022.673 93.8
2022.693 92.3
2022.711 89.7
2022.729 91.2
2022.748 89.5
2022.768 85.8
2022.786 94.7
2022.804 94.8
2022.823 92.5
2022.843 89.4
2022.864 95.8
2022.883 95.0
2022.906 92.0
2022.924 89.1
2022.940 86.3
2022.958 90.3
2022.978 92.1
2022.996 92.5
2023.014 92.5
2023.033 93.1
2023.053 93.5
2023.071 92.9
2023.093 92.3
2023.113 92.0
2023.131 91.9
2023.149 92.9
2023.169 92.4
2023.188 88.0
2023.209 93.3
2023.229 92.6
2023.248 93.8
2023.266 92.7
2023.286 94.2
2023.304 94.1
2023.323 94.2
2023.341 94.0
2023.364 94.4
2023.383 94.8
2023.401 95.2
2023.419 95.0
2023.439 88.8
2023.458 89.0
2023.476 89.9
2023.499 88.0
2023.518 88.5
2023.536 94.9
2023.554 93.3
2023.574 92.6
2023.593 91.7
2023.611 95.0
2023.631 94.4
2023.649 93.5
2023.669 92.5
2023.690 90.4
2023.709 90.2
2023.729 94.6
2023.747 94.7
2023.765 90.8
2023.784 94.4
2023.804 94.3
2023.822 93.9
2023.844 92.6
2023.864 92.1
2023.882 92.1
2023.900 91.4
2023.919 89.3
2023.939 89.3
2023.957 91.1
2023.975 95.7
2023.994 94.6
2024.014 94.4
2024.032 93.6
2024.050 92.3
2024.069 91.4
2024.089 88.3
2024.107 90.6
2024.129 94.0
2024.149 95.0
2024.167 94.3
2024.187 93.6
2024.205 91.3
2024.224 95.7
2024.249 95.6
2024.266 95.5
2024.281 94.8
2024.300 95.7
2024.318 94.9
2024.339 94.8
2024.357 93.3
2024.376 93.3
2024.394 93.8
2024.411 93.4
2024.430 93.1
2024.451 89.4
2024.469 91.9
2024.487 92.2
2024.506 94.4
2024.526 95.2
2024.545 96.0
2024.564 95.8
2024.584 94.9
2024.603 92.6
2024.622 93.0
2024.642 93.1
2024.661 92.1
2024.683 91.5
2024.700 92.6
2024.719 94.4
2024.737 95.7
2024.755 94.8
2024.776 95.3
2024.795 94.7
2024.815 94.7
2024.834 94.0
2024.853 92.8
2024.873 93.8
2024.892 92.4
2024.911 92.0
2024.931 91.6
2024.950 92.4
2024.969 92.5
2024.986 92.5
2025.008 92.4
2025.026 94.2
2025.047 93.3
2025.065 93.8
2025.084 94.4
2025.102 94.0
2025.120 95.4
2025.142 94.4
2025.162 94.8
2025.181 93.1
2025.200 94.7
2025.217 93.1
2025.239 93.2
2025.258 92.0
2025.278 90.9
2025.297 89.3
2025.315 89.4
2025.333 90.1
2025.354 89.4
2025.373 90.5
2025.391 88.6
2025.405 88.5
2025.431 85.2
2025.451 88.8
2025.470 90.8
2025.489 90.8
2025.506 89.8
2025.528 90.7
2025.547 90.6
2025.564 91.8
2025.581 92.0
2025.600 91.4
2025.619 91.7
2025.639 92.4
2025.658 93.0
2025.680 91.8
2025.698 92.0
2025.720 92.3
2025.737 94.2
2025.755 94.0
2025.774 95.3
2025.795 89.3
2025.817 90.6
2025.836 91.9
2025.853 92.8
2025.870 92.1
2025.889 94.4
2025.908 93.1
2025.928 94.1
2025.947 91.2
2025.966 96.0
2025.983 95.2
2026.000 95.3
2026.024 95.2
2026.044 96.5
2026.063 96.4
2026.081 93.0
2026.102 92.4
2026.120 92.1
2026.145 89.3
}\oi

\pgfplotsset{
  panel/.style={
    scale only axis, width=770pt, anchor=north west,
    xmin=2020.123, xmax=2026.145,
    xtick={2021,2022,2023,2024,2025,2026},
    xticklabels={},
    tick pos=left, tick align=outside,
    major tick length=3pt,
    axis line style={draw=spine, line width=0.8pt},
    tick style={draw=spine, line width=0.8pt},
    tick label style={font=\ticksz, text=black!88},
    label style={font=\ticksz, text=black!88},
    /pgf/number format/assume math mode=true,
    clip=false,
    legend cell align=left,
    legend style={at={(0,1)}, anchor=north west, xshift=5.2pt, yshift=-4.4pt,
      draw=black!20, line width=0.5pt, rounded corners=1.5pt,
      fill=white, fill opacity=0.8, draw opacity=1, text opacity=1,
      font=\legsz, inner xsep=2.3pt, inner ysep=2.8pt, row sep=2.6pt,
      nodes={inner xsep=1.5pt, inner ysep=0.6pt, text height=8.2pt, text depth=2.4pt},
      /tikz/every odd column/.append style={column sep=4.5pt}},
    legend image code/.code={\draw[##1, line width=1.4pt] (0pt,3.6pt) -- (21.7pt,3.6pt);},
  },
  gridded/.style={grid=major, major grid style={draw=gridc, line width=0.5pt}},
  series/.style={line width=1.3pt, line join=round, mark=none},
  ann/.style={only marks, point meta=explicit symbolic, nodes near coords,
    forget plot,
    every node near coord/.append style={font=\annsz, fill=white,
      fill opacity=0.7, text opacity=1, inner sep=1pt, rounded corners=1pt,
      anchor=west}},
}

\begin{document}
\begin{tikzpicture}
\useasboundingbox (0,0) rectangle (864pt,590pt);

% empty top panel
\begin{axis}[panel, at={(48.5pt,575.5pt)}, height=155pt,
  ymin=0, ymax=1, ytick={0,0.2,0.4,0.6,0.8,1},
  yticklabel style={/pgf/number format/.cd, fixed, fixed zerofill, precision=1}]
\end{axis}

% net positions
\begin{axis}[panel, gridded, at={(48.5pt,387.5pt)}, height=141pt,
  ymin=-57.5, ymax=57.9, ytick={-40,-20,0,20,40},
  ylabel={Net (contracts)},
  legend style={row sep=3.6pt},
  title={豪ドル先物 (6A) — Net Positions (FO+Options, Legacy, ALL)},
  title style={font=\titsz, at={(0.5,1)}, anchor=base, yshift=0.4pt, text=black!88}]
\addplot[series, C0] table[x=t, y=v] {\netNC};
\addlegendentry{Noncommercial (Net)}
\addplot[series, C1] table[x=t, y=v] {\netC};
\addlegendentry{Commercial (Net)}
\addplot[series, C2] table[x=t, y=v] {\netNR};
\addlegendentry{Nonreportable (Net)}
\addplot[C0, line width=0.8pt, forget plot] coordinates {(2020.123,0) (2026.145,0)};
\addplot[ann, mark=o, mark size=2.6pt, C0, line width=1.2pt,
  every node near coord/.append style={text=annblue, xshift=3pt, yshift=8.5pt}]
  coordinates {(2026.145,16) [16]};
\addplot[ann, mark=triangle*, mark size=3.2pt, C0, mark options={rotate=180},
  every node near coord/.append style={text=annblue, xshift=3.3pt, yshift=-8.5pt}]
  coordinates {(2025.662,-50) [-50]};
\end{axis}

% COT index
\begin{axis}[panel, gridded, at={(48.5pt,213.5pt)}, height=70pt,
  ymin=-2, ymax=101.3, ytick={0,50,100},
  ylabel={COT Index (0–100)}]
\addplot[series, C0] table[x=t, y=v] {\cotNC};
\addlegendentry{Noncommercial}
\addplot[series, C1] table[x=t, y=v] {\cotC};
\addlegendentry{Commercial}
\addplot[series, C2] table[x=t, y=v] {\cotNR};
\addlegendentry{Nonreportable}
\addplot[C0, line width=1pt, dash pattern=on 3.7pt off 1.6pt, forget plot]
  coordinates {(2020.123,75) (2026.145,75)};
\addplot[C0, line width=1pt, dash pattern=on 3.7pt off 1.6pt, forget plot]
  coordinates {(2020.123,25) (2026.145,25)};
\addplot[ann, mark=triangle*, mark size=3.2pt, C0,
  every node near coord/.append style={text=annblue, xshift=3pt, yshift=8.5pt}]
  coordinates {(2024.495,100) [100/100]};
\addplot[ann, mark=triangle*, mark size=3.2pt, C0, mark options={rotate=180},
  every node near coord/.append style={text=annblue, xshift=3.3pt, yshift=-9.5pt}]
  coordinates {(2021.709,0) [0/100]};
\addplot[ann, mark=o, mark size=2.6pt, C0, line width=1.2pt,
  every node near coord/.append style={text=annblue, xshift=3pt, yshift=8.5pt}]
  coordinates {(2026.145,100) [100/100]};
\end{axis}

% open interest
\begin{axis}[panel, gridded, at={(48.5pt,111pt)}, height=71pt,
  ymin=84.1, ymax=98.4, ytick={85,90,95},
  xticklabels={2021,2022,2023,2024,2025,2026},
  ylabel={Open Interest (contracts)}, xlabel={Date},
  xlabel style={font=\fontsize{9.6pt}{11pt}\selectfont}]
\addplot[C0, line width=1.55pt, line join=round] table[x=t, y=v] {\oi};
\addlegendentry{Open Interest (COT)}
\addplot[ann, mark=triangle*, mark size=3.3pt, markgray,
  every node near coord/.append style={text=anngray, xshift=3pt, yshift=9pt}]
  coordinates {(2021.541,97.4) [97]};
\addplot[ann, mark=triangle*, mark size=3.3pt, markgray, mark options={rotate=180},
  every node near coord/.append style={text=anngray, xshift=3.3pt, yshift=-10pt}]
  coordinates {(2025.431,85.2) [85]};
\addplot[ann, mark=o, mark size=2.6pt, markgray, line width=1.2pt,
  every node near coord/.append style={text=anngray, xshift=3pt, yshift=8.5pt}]
  coordinates {(2026.145,89.3) [89]};
\end{axis}

\node[anchor=south east, inner sep=0pt, font=\notesz, text=black!60]
  at (860pt,5.9pt) {注: Net/OI は枚数（contracts）。k=1,000枚。COT Index・WVI・Stoch は 0–100 の位置指数。};
\end{tikzpicture}
\end{document}
